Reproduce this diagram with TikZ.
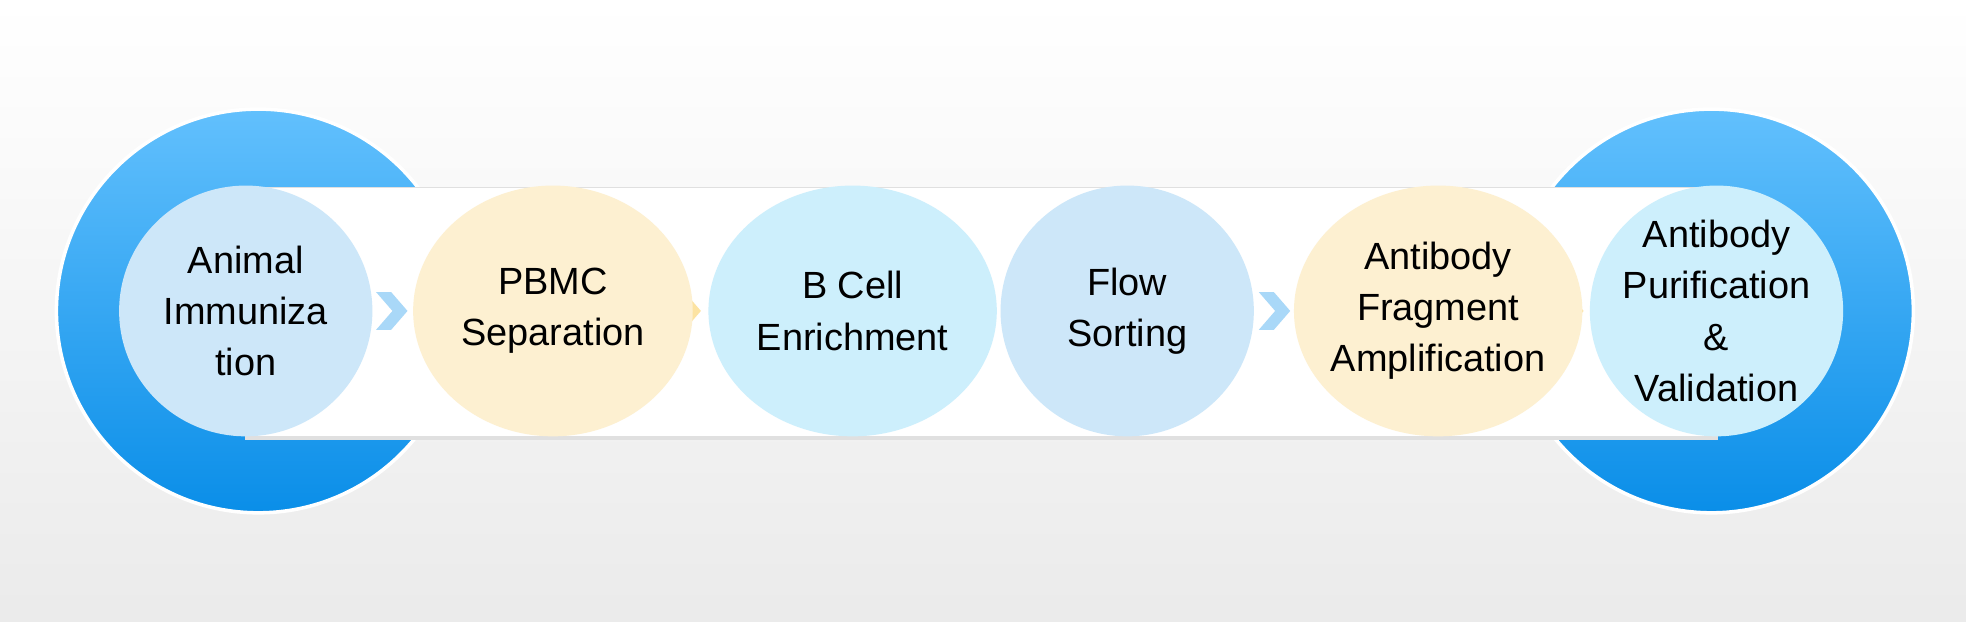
\documentclass[tikz,border=0pt]{standalone}
\usepackage{fontspec}
\setmainfont{Liberation Sans}
\usetikzlibrary{positioning,calc,shapes.geometric}
\definecolor{bigtop}{HTML}{62C0FD}
\definecolor{bigbot}{HTML}{0A8EE8}
\definecolor{pblue}{HTML}{CDE7F9}
\definecolor{pyellow}{HTML}{FDF0D1}
\definecolor{pcyan}{HTML}{CDEFFC}
\definecolor{chblue}{HTML}{A9D8F8}
\definecolor{chyellow}{HTML}{FCE3A2}
\definecolor{chcyan}{HTML}{A6E2FA}
\tikzset{
  stepnode/.style={ellipse,minimum height=2cm,align=center,inner xsep=-4mm,inner ysep=-5mm,
    font=\fontsize{8.6}{11.6}\selectfont},
  bigdisc/.style={circle,minimum size=3.22cm,top color=bigtop,bottom color=bigbot,draw=white,line width=0.8pt},
}
\newcommand{\chev}[2]{% position, colour
  \fill[#2] ($(#1)+(-0.12,0.15)$) -- ++(0.12,0) -- ++(0.13,-0.15) -- ++(-0.13,-0.15)
    -- ++(-0.12,0) -- ++(0.13,0.15) -- cycle;}
\begin{document}
\begin{tikzpicture}
\shade[top color=white,bottom color=black!8] (0,0) rectangle (15.68,4.96);
\useasboundingbox (0,0) rectangle (15.68,4.96);
% end discs
\node[bigdisc] (leftdisc) at (2.06,2.48) {};
\node[bigdisc] (rightdisc) at (13.65,2.48) {};
% white band
\fill[black!12] (1.95,1.45) rectangle (13.70,3.47);
\fill[white] (1.95,1.48) rectangle (13.70,3.46);
% chevrons (drawn first, partly hidden)
\coordinate (c1) at (3.12,2.48);
\coordinate (c2) at (5.46,2.48);
\coordinate (c3) at (7.82,2.48);
\coordinate (c4) at (10.16,2.48);
\coordinate (c5) at (12.50,2.48);
\chev{c1}{chblue}
\chev{c2}{chyellow}
\chev{c3}{chcyan}
\chev{c4}{chblue}
\chev{c5}{chyellow}
% steps
\node[stepnode,fill=pblue,minimum width=2.02cm] (immun) at (1.96,2.48) {Animal\\Immuniza\\tion};
\node[stepnode,fill=pyellow,minimum width=2.23cm] (pbmc) at (4.41,2.48) {PBMC\\Separation};
\node[stepnode,fill=pcyan,minimum width=2.3cm] (bcell) at (6.80,2.48) {B Cell\\Enrichment};
\node[stepnode,fill=pblue,minimum width=2.02cm] (flow) at (8.99,2.48) {Flow\\Sorting};
\node[stepnode,fill=pyellow,minimum width=2.3cm] (frag) at (11.47,2.48) {Antibody\\Fragment\\Amplification};
\node[stepnode,fill=pcyan,minimum width=2.02cm] (purif) at (13.69,2.48) {Antibody\\Purification\\\&\\Validation};
\end{tikzpicture}
\end{document}
